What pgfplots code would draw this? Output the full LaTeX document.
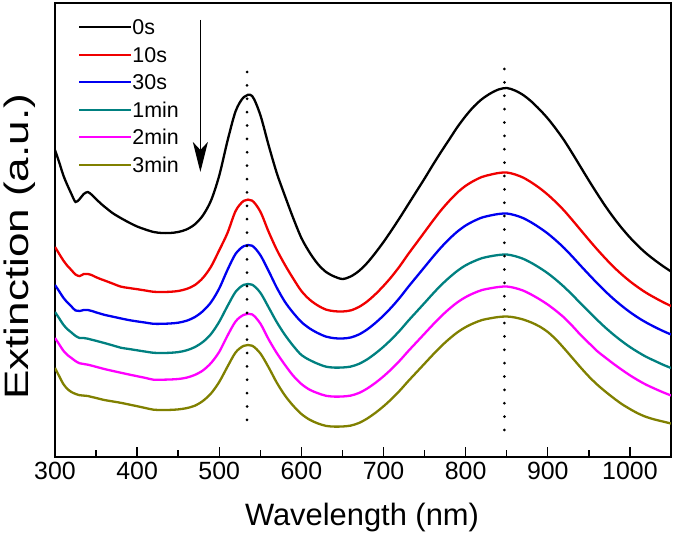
\documentclass[border=0pt]{standalone}
\usepackage{pgfplots}
\usepackage{pgfplotstable}
\pgfplotsset{compat=1.18}
\usepackage{fontspec}
\setmainfont{Liberation Sans}
\usetikzlibrary{arrows.meta}
\definecolor{cteal}{RGB}{0,128,128}
\definecolor{cmag}{RGB}{255,0,255}
\definecolor{colive}{RGB}{128,128,0}
\definecolor{cred}{RGB}{240,0,0}
\definecolor{cblue}{RGB}{0,0,240}
\pgfplotstableread{
wl    s0     s10    s30    m1     m2     m3
300   307    210    172    145    119    89
305   295    203.3  165.8  138.8  112.8  81
310   282    196.7  159.5  132.5  106.5  73.2
315   272    191.3  154.6  127.9  102.1  68.1
320   263    186.9  150.5  124.5  99     65
325   255    182.5  146.5  121.1  95.9   63.1
330   258    180.9  146    119    93.7   61.8
335   263    183    147    119    93     61.4
340   265    183    147    118.3  92.3   61
345   262    181.8  146    117.2  91.3   60
350   258    179.8  144.6  116.2  90.2   59
355   254    178.1  143.4  115.1  89.1   58
360   250.5  176.6  142.2  114    88     57
370   244    173.5  140.4  111.7  86.1   55.6
380   239    170.4  138.6  109.3  84.3   54.2
390   234.5  169    136.9  108    82.5   52.5
400   230.5  167.8  135.6  106.7  80.8   50.8
410   227.5  166.5  134.4  105.4  79.1   49
420   225    165.2  133.2  104.2  77.3   47.3
430   224    165    133.2  104    77.3   47
440   224    165.2  133.5  104.2  77.5   47.1
450   225    166    134.3  104.9  78     47.6
460   227.5  168    136.2  106.6  79.3   48.8
470   232.5  171.8  139.8  109.8  82     51.2
480   241.5  179    145.8  115    86.5   56
490   256.5  190.4  154.8  123    94     63.6
500   281.5  206.8  168.6  135.3  105.2  75.1
510   316    224    187.1  150.9  121.3  90.3
520   346    246.2  203.3  165.3  135.7  104.7
530   360    256.2  210.9  172.2  142.2  111.2
540   361    256.4  211.3  172.3  142.6  111.3
550   342    245.4  201.9  164.3  133.5  103.6
560   312    225.4  186.2  149.8  117.8  89.8
570   284    207.3  169.4  134.9  104    74.4
580   261    192.1  155.1  122.1  92.1   61.5
590   239    178.5  144.2  111.2  81.3   51.3
600   219    166    135    102    73     43
610   204.5  157.4  128.6  97     67.3   37.3
620   193    151.5  123.9  93.2   63.8   33.6
630   185    147.4  120.4  90.3   61.2   31.1
640   180.5  145.8  118.8  89.4   60.4   30.4
650   178    145.5  118.5  89.5   60.5   30.5
660   180.5  146.6  119.5  90.4   61.4   31.4
670   186    150    122.5  93.1   64     34
680   194    155.5  127.5  97.6   68.4   38.4
690   204    162.7  134    103.5  74.1   44.1
700   215    171.1  141.5  110.3  80.7   50.7
710   227    180.5  150    118    88.2   58.2
720   239.5  191.1  159.5  126.6  96.6   66.6
730   252.5  202.8  170    136.1  105.8  75.8
740   265.5  213.9  180    145.1  114.6  84.6
750   278.5  225    190    154.1  123.4  93.4
760   292    236.1  200    163.2  132.2  102.2
770   305    246.7  209.5  171.8  140.6  110.6
780   317.5  256.1  218    179.4  148.1  118.1
790   330    264.5  225.5  186.2  154.7  124.7
800   341    271.2  231.5  191.7  159.9  129.9
810   350.5  276.2  236    195.7  163.9  133.9
820   358    280.1  239.5  198.9  167    137
830   363.5  282.3  241.5  200.7  168.7  138.7
840   367.5  284    243    202    170    140
850   369    284.5  243.5  202.5  170.5  140.5
860   366.5  282.6  241.8  200.9  169    139.5
870   362    279.4  238.9  198.2  166.4  137.5
880   355.5  274.6  234.5  194.1  162.4  134.5
890   347.5  268.9  229.3  189.2  157.7  130.5
900   338.5  262.3  223.4  183.7  152.4  125
910   328    254.7  216.5  177.2  146.2  117.5
920   316.5  246.3  208.9  170    139.3  108.5
930   303.5  236.8  200.3  162    131    99
940   290    227    191.3  153.6  122    89.5
950   276.5  217.2  182.5  145.3  114    80.5
960   263.5  207.7  173.9  137.2  106    72.5
970   251    198.7  165.7  129.5  99.5   65.5
980   239.5  190.2  158.1  122.4  93.2   59
990   229    182.6  151.2  115.9  87.3   53
1000  219.5  175.7  144.9  110    81.7   48
1010  211    169.6  139.3  104.8  76.7   43.5
1020  203.5  164.1  134.4  100.1  72.2   40
1030  197    159.4  130.1  96.2   68.4   37.5
1040  191    155    126.1  92.4   64.8   35.5
1050  185.5  151    122.5  89     61.5   33.5
}\spectra
\begin{document}
\begin{tikzpicture}
\begin{axis}[
  scale only axis, width=616bp, height=454bp,
  xmin=300, xmax=1050, ymin=0, ymax=454,
  axis line style={line width=1.8bp},
  xtick={300,400,...,1000}, minor x tick num=1,
  ytick=\empty, xtick pos=bottom, tick align=inside,
  major tick length=10bp, minor tick length=7bp,
  every tick/.style={black, line width=1.4bp},
  /pgf/number format/assume math mode=true,
  /pgf/number format/1000 sep={},
  xticklabel style={font=\fontsize{25}{30}\selectfont, yshift=-2bp},
  xlabel={Wavelength (nm)},
  xlabel style={font=\fontsize{31}{36}\selectfont, at={(axis description cs:0.4984,-0.1498)}, anchor=base},
  ylabel={\scalebox{1.3}[1]{Extinction (a.u.)}},
  ylabel style={font=\fontsize{34}{38}\selectfont, at={(axis description cs:-0.0438,0.463)}, anchor=base, rotate=0},
  legend style={at={(axis description cs:0.0373,0.9642)}, anchor=north west, draw=none, fill=none, inner sep=0pt,
    font=\fontsize{21.5}{24}\selectfont,
    nodes={inner sep=0pt, text height=15.5bp, text depth=0bp},
    row sep=12bp,
    /tikz/every even column/.append style={column sep=7bp}},
  legend cell align=left,
  legend image code/.code={\draw[#1, sharp plot] (0bp,0bp) -- (52bp,0bp);},
  every axis plot/.append style={line width=2.3bp, smooth, tension=0.5},
]
\addplot[black] table[x=wl, y=s0] {\spectra};
\addlegendentry{0s}
\addplot[cred] table[x=wl, y=s10] {\spectra};
\addlegendentry{10s}
\addplot[cblue] table[x=wl, y=s30] {\spectra};
\addlegendentry{30s}
\addplot[cteal] table[x=wl, y=m1] {\spectra};
\addlegendentry{1min}
\addplot[cmag] table[x=wl, y=m2] {\spectra};
\addlegendentry{2min}
\addplot[colive] table[x=wl, y=m3] {\spectra};
\addlegendentry{3min}
\addplot[black, line width=3bp, line cap=round, dash pattern=on 0pt off 13.38bp, forget plot, sharp plot] coordinates {(533.8,385)(533.8,37)};
\addplot[black, line width=3bp, line cap=round, dash pattern=on 0pt off 13.37bp, forget plot, sharp plot] coordinates {(847.2,388)(847.2,27)};
\draw[black, line width=1.6bp, -{Stealth[length=30bp,width=15bp,inset=8bp]}] (axis cs:477,437) -- (axis cs:477,285);
\end{axis}
\pgfresetboundingbox
\path (-55bp,-88bp) rectangle (620bp,457bp);
\end{tikzpicture}
\end{document}
